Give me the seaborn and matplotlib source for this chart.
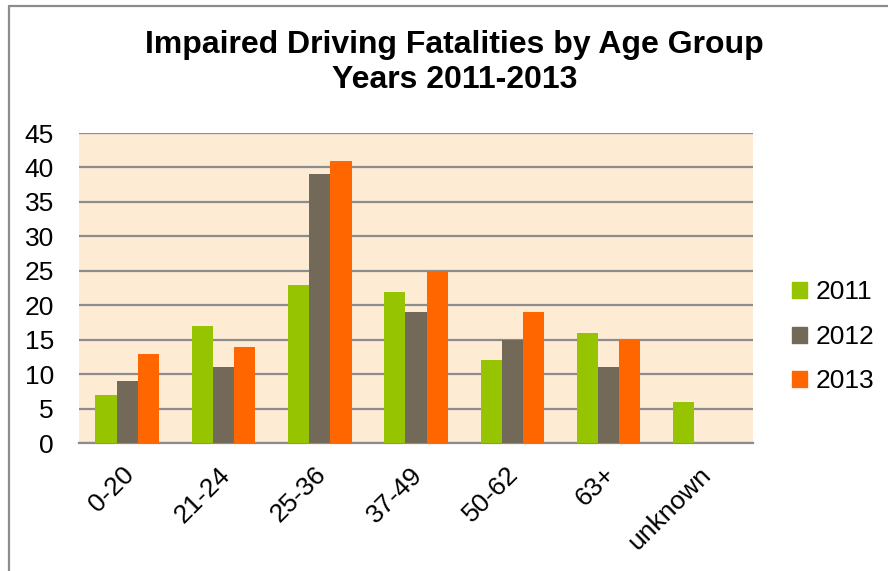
import numpy as np
import pandas as pd
import matplotlib.pyplot as plt
import seaborn as sns
from matplotlib.lines import Line2D
from matplotlib import transforms

age_groups = ['0-20', '21-24', '25-36', '37-49', '50-62', '63+', 'unknown']
years = ['2011', '2012', '2013']
fatal_2011 = [7, 17, 23, 22, 12, 16, 6]
fatal_2012 = [9, 11, 39, 19, 15, 11, np.nan]
fatal_2013 = [13, 14, 41, 25, 19, 15, np.nan]
year_colors = {'2011': '#97C400', '2012': '#736959', '2013': '#FF6600'}

rows = []
for year, vals in zip(years, [fatal_2011, fatal_2012, fatal_2013]):
    for grp, v in zip(age_groups, vals):
        rows.append({'age': grp, 'year': year, 'count': v})
df = pd.DataFrame(rows).dropna()

sns.set_style('white')
plt.rcParams['font.family'] = ['Liberation Sans', 'DejaVu Sans']
plt.rcParams['text.color'] = 'black'

fig = plt.figure(figsize=(8.88, 5.71), dpi=100)
ax = fig.add_axes([0.089, 0.224, 0.759, 0.543])
ax.set_facecolor('#FDEBD3')

sns.barplot(data=df, x='age', y='count', hue='year', order=age_groups,
            hue_order=years, palette=year_colors, width=0.66, saturation=1,
            errorbar=None, ax=ax, zorder=3, legend=False, linewidth=0)

ax.set_ylim(0, 45)
ax.set_yticks(range(0, 46, 5))
ax.set_xlim(-0.5, len(age_groups) - 0.5)
ax.yaxis.grid(True, color='#8C8C8C', linewidth=1.6, zorder=1)
ax.set_axisbelow(True)
for side in ['left', 'right', 'top']:
    ax.spines[side].set_visible(False)
ax.spines['bottom'].set_color('#8C8C8C')
ax.spines['bottom'].set_linewidth(1.6)
ax.set_xlabel('')
ax.set_ylabel('')
ax.tick_params(axis='both', length=0, labelsize=19, colors='black')
ax.tick_params(axis='y', pad=18)
ax.tick_params(axis='x', pad=20)
offset = transforms.ScaledTranslation(2 / 72, 0, fig.dpi_scale_trans)
for lbl in ax.get_xticklabels():
    lbl.set_rotation(45)
    lbl.set_ha('right')
    lbl.set_va('center')
    lbl.set_rotation_mode('anchor')
    lbl.set_transform(lbl.get_transform() + offset)

handles = [plt.Rectangle((0, 0), 1, 1, color=year_colors[y]) for y in years]
fig.legend(handles, years, loc='center left', bbox_to_anchor=(0.892, 0.41),
           frameon=False, fontsize=19, handlelength=0.55, handleheight=0.55,
           handletextpad=0.35, labelspacing=0.78, labelcolor='black',
           borderaxespad=0, borderpad=0)

fig.text(0.512, 0.921, 'Impaired Driving Fatalities by Age Group',
         ha='center', va='center', fontsize=23, fontweight='bold', color='black')
fig.text(0.512, 0.860, 'Years 2011-2013',
         ha='center', va='center', fontsize=23, fontweight='bold', color='black')

# outer chart frame (left and top edges)
fig.add_artist(Line2D([9 / 888, 9 / 888], [0, 1 - 6 / 571], transform=fig.transFigure,
                      color='#8C8C8C', linewidth=1.6))
fig.add_artist(Line2D([9 / 888, 1], [1 - 6 / 571, 1 - 6 / 571], transform=fig.transFigure,
                      color='#8C8C8C', linewidth=1.6))

fig.savefig('out.png', dpi=100)
